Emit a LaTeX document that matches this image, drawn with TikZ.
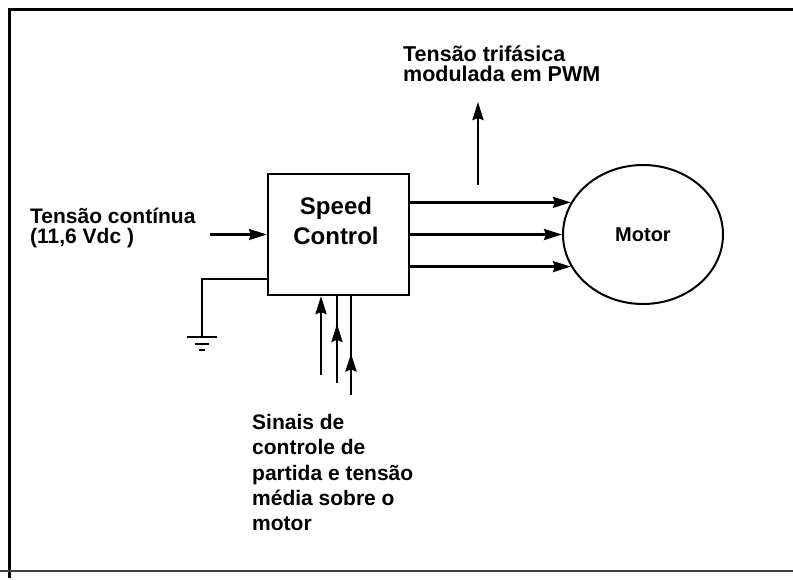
\documentclass[tikz,border=0pt]{standalone}
\usepackage{fontspec}
\setmainfont{Liberation Sans}
\usetikzlibrary{arrows.meta,decorations.markings,shapes.geometric}

\begin{document}
\begin{tikzpicture}[x=1pt,y=-1pt,
  wire/.style={line width=2.6pt},
  thinwire/.style={line width=1.8pt},
  tip/.style={-{Stealth[length=18pt,width=11pt,inset=2pt]}},
  midtip/.style={postaction={decorate},decoration={markings,
      mark=at position #1 with {\arrow{Stealth[length=18pt,width=11pt,inset=2pt]}}}},
  lbl/.style={font=\fontsize{21}{20}\selectfont\bfseries, inner sep=0pt, align=left, anchor=north west},
  lblwide/.style={lbl, font=\fontsize{21}{25.3}\selectfont\bfseries},
  block/.style={draw, line width=2.2pt, minimum width=141pt, minimum height=121pt, inner sep=0pt},
  motorshape/.style={draw, ellipse, line width=2pt, minimum width=160pt, minimum height=139pt, inner sep=0pt,
      font=\fontsize{20}{24}\selectfont\bfseries},
]
\useasboundingbox (0,0) rectangle (793,579);
\fill[white] (0,0) rectangle (793,579);
% frame
\draw[line width=3pt] (9.5,578) -- (9.5,9.5) -- (793,9.5);
\draw[line width=1.4pt, black!75] (0,571) -- (793,571);

% blocks
\node[block] (sc) at (338.5,234.5) {};
\node[font=\fontsize{24}{30}\selectfont\bfseries, align=center, inner sep=0pt] (sctext) at (336,221) {Speed\\Control};
\node[motorshape] (motor) at (643,234.5) {Motor};

% labels
\node[lbl] (inlbl) at (30,208) {Tensão contínua\\(11,6 Vdc )};
\node[lbl, font=\fontsize{21.5}{20}\selectfont\bfseries] (pwm) at (403,46) {Tensão trifásica\\ modulada em PWM};
\node[lblwide] (sig) at (252,414) {Sinais de\\controle de\\partida e tensão\\média sobre o\\motor};

% input
\coordinate (in) at (210,234.5);
\draw[wire,tip] (in) -- (sc.west);

% ground
\coordinate (gnd) at (202,337);
\draw[thinwire] ([yshift=17pt]sc.south west) -| (gnd);
\draw[line width=2.4pt] ([xshift=-15pt]gnd) -- ([xshift=15pt]gnd);
\draw[line width=1.8pt] ([xshift=-7pt,yshift=-7pt]gnd) -- ([xshift=7pt,yshift=-7pt]gnd);
\draw[line width=1.5pt] ([xshift=-3pt,yshift=-13pt]gnd) -- ([xshift=3pt,yshift=-13pt]gnd);

% outputs to motor
\draw[wire,tip] (sc.east |- motor.156) -- (motor.156);
\draw[wire,tip] (sc.east) -- (motor.west);
\draw[wire,tip] (sc.east |- motor.204) -- (motor.204);

% PWM arrow
\coordinate (pwm0) at (478,185);
\coordinate (pwm1) at (478,102);
\draw[wire,tip] (pwm0) -- (pwm1);

% control signal arrows
\coordinate (b1) at (321,375);
\coordinate (b2) at (337,383);
\coordinate (b3) at (351,395);
\draw[wire,tip] (b1) -- (b1 |- sc.south);
\draw[wire,midtip=0.68] (b2) -- (b2 |- sc.south);
\draw[wire,midtip=0.42] (b3) -- (b3 |- sc.south);
\end{tikzpicture}
\end{document}
